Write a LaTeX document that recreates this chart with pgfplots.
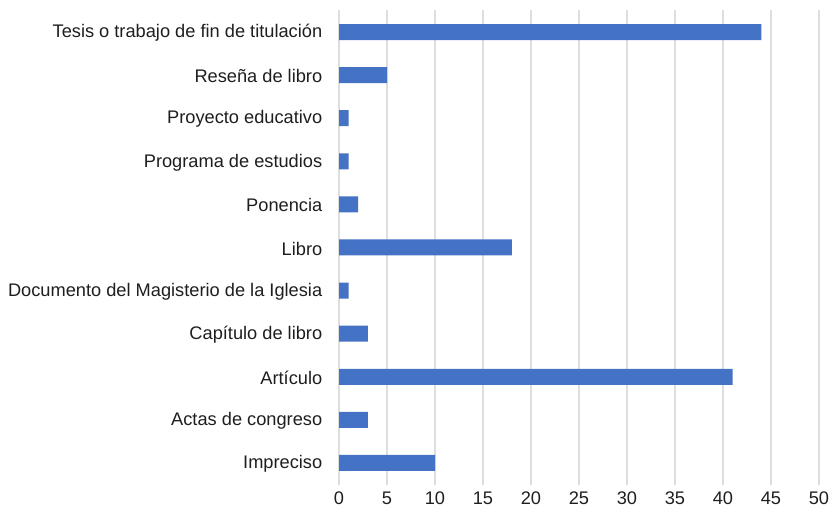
\documentclass[border=0pt]{standalone}
\usepackage{pgfplots}
\pgfplotsset{compat=1.18}
\usepackage{fontspec}
\setmainfont{Liberation Sans}
\definecolor{barblue}{HTML}{4472C4}
\definecolor{gridgray}{HTML}{DEDEDE}
\definecolor{txt}{HTML}{1E1E1E}
\begin{document}
\begin{tikzpicture}
\path[use as bounding box] (0,0) rectangle (832bp,515bp);
\begin{axis}[
  at={(339bp,30.5bp)}, anchor=south west,
  scale only axis, width=480bp, height=474bp,
  xbar, bar width=16bp,
  xmin=0, xmax=50, ymin=-0.5, ymax=10.5,
  xtick={0,5,...,50},
  ytick={0,...,10},
  yticklabels={Impreciso, Actas de congreso, Artículo, Capítulo de libro, Documento del Magisterio de la Iglesia, Libro, Ponencia, Programa de estudios, Proyecto educativo, Reseña de libro, Tesis o trabajo de fin de titulación},
  xmajorgrids, grid style={draw=gridgray, line width=1.1bp},
  axis line style={draw=none},
  tick style={draw=none},
  /pgf/number format/assume math mode=true,
  tick label style={font=\fontsize{18.3}{20}\selectfont, text=txt},
  yticklabel style={xshift=-9bp, yshift=-1bp},
  xticklabel style={yshift=-4bp},
]
\addplot[fill=barblue, draw=none] coordinates {(10,0) (3,1) (41,2) (3,3) (1,4) (18,5) (2,6) (1,7) (1,8) (5,9) (44,10)};
\end{axis}
\end{tikzpicture}
\end{document}
